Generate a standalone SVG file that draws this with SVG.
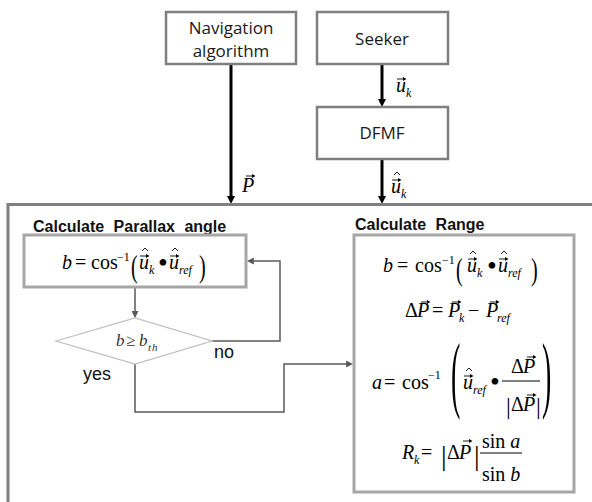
<svg xmlns="http://www.w3.org/2000/svg" width="592" height="502" viewBox="0 0 592 502">
<style>
.box{fill:#fff;stroke:#7f7f7f;stroke-width:2.5}
.fbox{fill:#fff;stroke:#a6a6a6;stroke-width:3}
.dia{fill:#fff;stroke:#bfbfbf;stroke-width:1.3}
.lbl{font-family:"Open Sans","Liberation Sans",sans-serif;font-size:17px;fill:#1a1a1a;text-anchor:middle}
.hd{font-family:"Liberation Sans",Arial,sans-serif;font-size:16px;font-weight:bold;fill:#111;word-spacing:5px}
.yn{font-family:"Liberation Sans",Arial,sans-serif;font-size:18px;fill:#111}
.m{font-family:"Liberation Serif","Times New Roman",serif;font-size:20px;fill:#000}
.i{font-style:italic}
.s{font-size:12px}
.dot{font-size:28px}
.main{fill:none;stroke:#000;stroke-width:3}
.flow{fill:none;stroke:#595959;stroke-width:1.5}
.frac{stroke:#000;stroke-width:1}
</style>
<defs>
<marker id="ah" viewBox="0 0 10 10" refX="5" refY="5" markerWidth="8" markerHeight="8" markerUnits="userSpaceOnUse" orient="auto"><path d="M0,0 L10,5 L0,10 z" fill="#000"/></marker>
<marker id="ahg" viewBox="0 0 10 10" refX="7" refY="5" markerWidth="7" markerHeight="7" markerUnits="userSpaceOnUse" orient="auto"><path d="M0,0 L10,5 L0,10 z" fill="#595959"/></marker>
<g id="va"><path d="M0 0H7.5" stroke="#000" stroke-width="0.9"/><path d="M6 -2L9.5 0L6 2z" fill="#000"/></g>
<path id="ht" d="M0 3L3 0L6 3" fill="none" stroke="#000" stroke-width="0.9"/>
</defs>

<g id="connectors">
<path class="main" d="M231 64V200" marker-end="url(#ah)"/>
<path class="main" d="M382 64V103" marker-end="url(#ah)"/>
<path class="main" d="M382 159V200" marker-end="url(#ah)"/>
<path class="flow" d="M135 287V316" marker-end="url(#ahg)"/>
<path class="flow" d="M212 341H280V261H249" marker-end="url(#ahg)"/>
<path class="flow" d="M135 364V412H284V364H351" marker-end="url(#ahg)"/>
</g>

<g id="outer"><path d="M8 502V204.5H592" fill="none" stroke="#7f7f7f" stroke-width="3"/></g>

<g id="nav">
<rect class="box" x="166" y="12" width="130" height="52"/>
<text class="lbl" x="231" y="34">Navigation</text>
<text class="lbl" x="231" y="57">algorithm</text>
</g>
<g id="seeker">
<rect class="box" x="317" y="12" width="131" height="52"/>
<text class="lbl" x="382" y="45">Seeker</text>
</g>
<g id="dfmf">
<rect class="box" x="317" y="107" width="131" height="52"/>
<text class="lbl" x="382" y="139">DFMF</text>
</g>

<g id="label-P">
<text class="m i" x="242" y="192">P</text><use href="#va" x="246" y="176"/>
</g>
<g id="label-uk">
<text class="m i" x="396" y="92">u</text><use href="#va" x="397" y="79"/>
<text class="m i s" x="406" y="97">k</text>
</g>
<g id="label-uhatk">
<text class="m i" x="391" y="193">u</text><use href="#va" x="392" y="180"/><use href="#ht" x="394" y="172"/>
<text class="m i s" x="401" y="198">k</text>
</g>

<g id="parallax">
<text class="hd" x="33" y="232">Calculate Parallax angle</text>
<rect class="fbox" x="24" y="235" width="222" height="52"/>
<text class="m i" x="62" y="269">b</text>
<text class="m" x="75" y="269">=</text>
<text class="m" x="91" y="269">cos</text>
<text class="m s" x="117" y="261">−1</text>
<text class="m" transform="translate(131,277) scale(1,1.6)">(</text>
<text class="m i" x="139" y="269">u</text><use href="#va" x="140" y="256"/><use href="#ht" x="142" y="248"/>
<text class="m i s" x="149" y="274">k</text>
<text class="m dot" x="158" y="272">•</text>
<text class="m i" x="169" y="269">u</text><use href="#va" x="170" y="256"/><use href="#ht" x="172" y="248"/>
<text class="m i s" x="179" y="274">ref</text>
<text class="m" transform="translate(199,277) scale(1,1.6)">)</text>
</g>

<g id="decision">
<polygon class="dia" points="56,341 135,318 212,341 135,364"/>
<text class="m i" style="font-size:17px;fill:#333" x="116" y="346">b</text>
<text class="m" style="font-size:17px;fill:#333" x="126" y="346">≥</text>
<text class="m i" style="font-size:17px;fill:#333" x="139" y="346">b</text>
<text class="m i" style="font-size:11px;fill:#333;letter-spacing:1px" x="148" y="351">th</text>
<text class="yn" x="214" y="358">no</text>
<text class="yn" x="83" y="380">yes</text>
</g>

<g id="range">
<text class="hd" x="355" y="230">Calculate Range</text>
<rect class="fbox" x="354" y="235" width="220" height="257"/>
<!-- formula 1 -->
<text class="m i" x="383" y="272">b</text>
<text class="m" x="397" y="272">=</text>
<text class="m" x="415" y="272">cos</text>
<text class="m s" x="442" y="264">−1</text>
<text class="m" transform="translate(456,280) scale(1,1.6)">(</text>
<text class="m i" x="467" y="272">u</text><use href="#va" x="468" y="259"/><use href="#ht" x="470" y="251"/>
<text class="m i s" x="477" y="277">k</text>
<text class="m dot" x="487" y="275">•</text>
<text class="m i" x="498" y="272">u</text><use href="#va" x="499" y="259"/><use href="#ht" x="501" y="251"/>
<text class="m i s" x="508" y="277">ref</text>
<text class="m" transform="translate(531,280) scale(1,1.6)">)</text>
<!-- formula 2 -->
<text class="m" x="405" y="317">Δ</text>
<text class="m i" x="417" y="317">P</text><use href="#va" x="421" y="302"/>
<text class="m" x="432" y="317">=</text>
<text class="m i" x="448" y="317">P</text><use href="#va" x="452" y="302"/>
<text class="m i s" x="459" y="322">k</text>
<text class="m" x="468" y="317">−</text>
<text class="m i" x="486" y="317">P</text><use href="#va" x="490" y="302"/>
<text class="m i s" x="497" y="322">ref</text>
<!-- formula 3 -->
<text class="m i" x="372" y="389">a</text>
<text class="m" x="384" y="389">=</text>
<text class="m" x="402" y="389">cos</text>
<text class="m s" x="428" y="379">−1</text>
<text class="m" style="font-size:28px" transform="translate(451,402) scale(1,3)">(</text>
<text class="m i" x="463" y="389">u</text><use href="#va" x="464" y="376"/><use href="#ht" x="466" y="368"/>
<text class="m i s" x="473" y="394">ref</text>
<text class="m dot" x="490" y="391">•</text>
<text class="m" x="511" y="373">Δ</text>
<text class="m i" x="523" y="373">P</text><use href="#va" x="527" y="357"/>
<line class="frac" x1="502" y1="381" x2="540" y2="381"/>
<text class="m" style="font-size:24px" x="506" y="414">|</text>
<text class="m" x="511" y="411">Δ</text>
<text class="m i" x="523" y="411">P</text><use href="#va" x="527" y="395"/>
<text class="m" style="font-size:24px" x="536" y="414">|</text>
<text class="m" style="font-size:28px" transform="translate(542,402) scale(1,3)">)</text>
<!-- formula 4 -->
<text class="m i" x="402" y="459">R</text>
<text class="m i s" x="414" y="464">k</text>
<text class="m" x="421" y="459">=</text>
<text class="m" style="font-size:28px" x="441" y="465">|</text>
<text class="m" x="447" y="459">Δ</text>
<text class="m i" x="459" y="459">P</text><use href="#va" x="463" y="441"/>
<text class="m" style="font-size:28px" x="474" y="465">|</text>
<text class="m" x="482" y="448">sin <tspan class="i">a</tspan></text>
<line class="frac" x1="480" y1="453" x2="522" y2="453"/>
<text class="m" x="482" y="481">sin <tspan class="i">b</tspan></text>
</g>
</svg>
